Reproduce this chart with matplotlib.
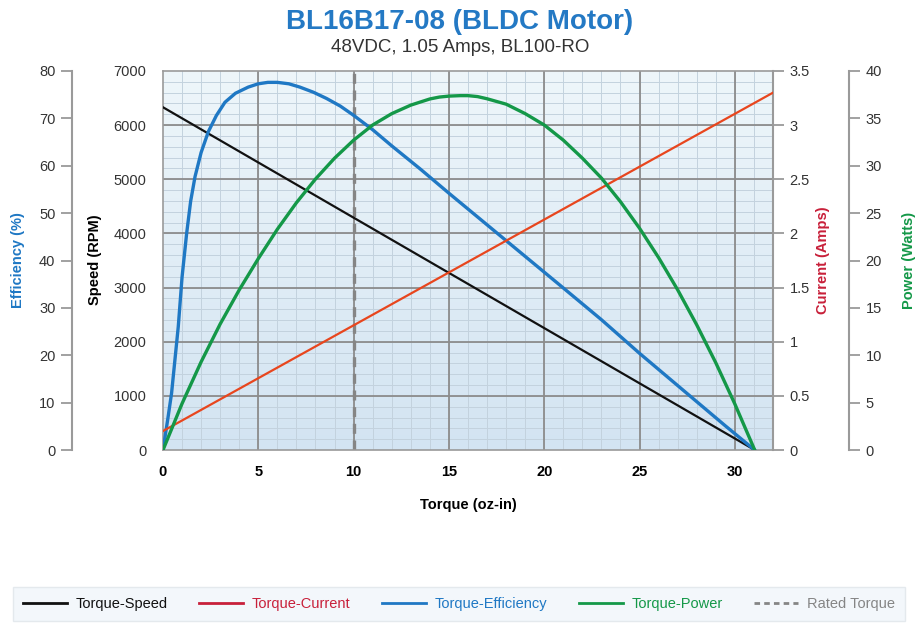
import numpy as np
import matplotlib
matplotlib.use('Agg')
import matplotlib.pyplot as plt
from matplotlib.lines import Line2D

plt.rcParams['font.family'] = ['Liberation Sans', 'DejaVu Sans']

# ── data ──
speed_t = [0, 31.04]
speed_rpm = [6330, 0]

cur_t = [0, 32]
cur_a = [0.175, 3.30]

eff_t = [0, 0.25, 0.45, 0.8, 1.0, 1.24, 1.45, 1.68, 2.0, 2.38, 2.8, 3.25, 3.8, 4.47,
         5.0, 5.5, 6.0, 6.6, 7.18, 7.9, 8.58, 9.3, 9.98, 11.0, 12.0, 13.5, 15, 16.5, 18,
         19.5, 21, 23, 25, 26.5, 28, 29.5, 31.04]
eff_pct = [0, 6.5, 12.0, 26.0, 36.5, 45.7, 52.5, 57.7, 62.8, 67.2, 70.6, 73.4, 75.3, 76.6,
           77.3, 77.6, 77.6, 77.3, 76.6, 75.5, 74.2, 72.6, 70.7, 67.6, 64.2, 59.3, 54.2, 49.2,
           44.2, 39.2, 34.2, 27.5, 20.4, 15.3, 10.2, 5.1, 0]

pow_t = [0, 1, 2, 3, 4, 5, 6, 7, 8, 9, 10, 11, 12, 13, 14, 14.5, 15, 15.6, 16, 16.5, 17, 18,
         19, 20, 21, 22, 23, 24, 25, 26, 27, 28, 29, 30, 31.04]
pow_w = [0, 4.9, 9.3, 13.3, 16.9, 20.2, 23.3, 26.1, 28.6, 30.8, 32.7, 34.3, 35.5, 36.4, 37.05,
         37.25, 37.35, 37.4, 37.4, 37.3, 37.07, 36.5, 35.5, 34.3, 32.7, 30.8, 28.7, 26.2, 23.4,
         20.3, 16.9, 13.2, 9.2, 4.85, 0]

rated_torque = 10

# ── colours ──
C_SPEED = '#111111'
C_CUR = '#e8461e'
C_CUR_TXT = '#c8203a'
C_EFF = '#1f78c4'
C_POW = '#149848'
C_RATED = '#858585'
C_AX = '#9a9a9a'
C_TXT = '#333333'

fig = plt.figure(figsize=(9.2, 6.23), dpi=100)
L, R, B, T = 163/920, 773/920, 1-450/623, 1-71/623
ax = fig.add_axes([L, B, R-L, T-B])
ax.set_xlim(0, 32)
ax.set_ylim(0, 7000)

# gradient background
grad = np.linspace(0, 1, 256).reshape(-1, 1)
cmap = matplotlib.colors.LinearSegmentedColormap.from_list('bg', ['#d3e4f2', '#eef6fa'])
ax.imshow(grad, extent=[0, 32, 0, 7000], origin='lower', aspect='auto', cmap=cmap, zorder=0)

x_major = np.arange(0, 31, 5)
y_major = np.arange(0, 7001, 1000)
ax.set_xticks(x_major)
ax.set_yticks(y_major)

# grid: minor first, major on top
for xv in np.arange(1, 32, 1):
    ax.axvline(xv, color='#c3d2de', lw=0.7, zorder=0.6)
for yv in np.arange(200, 7000, 200):
    ax.axhline(yv, color='#c3d2de', lw=0.7, zorder=0.6)
for xv in x_major[1:]:
    ax.axvline(xv, color='#8c8c8c', lw=1.3, zorder=0.8)
for yv in y_major[1:-1]:
    ax.axhline(yv, color='#8c8c8c', lw=1.3, zorder=0.8)

ax.tick_params(axis='both', which='both', length=0)
ax.tick_params(axis='x', pad=11, labelsize=10.5, colors='black')
ax.tick_params(axis='y', pad=12, labelsize=10.5, labelcolor=C_TXT)
for lbl in ax.get_xticklabels():
    lbl.set_fontweight('bold')
for s in ax.spines.values():
    s.set_color(C_AX)
    s.set_linewidth(1.2)

ax.axvline(rated_torque, color=C_RATED, lw=2.4, ls=(0, (3, 2)), zorder=2)
ax.plot(speed_t, speed_rpm, color=C_SPEED, lw=1.6, zorder=3)

# efficiency axis (far left)
ax_eff = ax.twinx()
ax_eff.set_ylim(0, 80)
ax_eff.spines['left'].set_visible(True)
ax_eff.spines['left'].set_position(('axes', -0.149))
ax_eff.yaxis.set_ticks_position('left')
ax_eff.yaxis.set_label_position('left')
ax_eff.set_yticks(np.arange(0, 81, 10))

# current axis (right edge)
ax_cur = ax.twinx()
ax_cur.set_ylim(0, 3.5)
ax_cur.set_yticks(np.arange(0, 3.51, 0.5))
ax_cur.set_yticklabels(['0', '0.5', '1', '1.5', '2', '2.5', '3', '3.5'])

# power axis (far right)
ax_pow = ax.twinx()
ax_pow.set_ylim(0, 40)
ax_pow.spines['right'].set_position(('axes', 1.1246))
ax_pow.set_yticks(np.arange(0, 41, 5))

for a in (ax_eff, ax_cur, ax_pow):
    for k, s in a.spines.items():
        s.set_color(C_AX)
        s.set_linewidth(1.5)
        if k in ('top', 'bottom'):
            s.set_visible(False)
    a.tick_params(axis='y', length=8, width=1.3, color=C_AX, labelsize=10.5,
                  labelcolor=C_TXT, pad=4)
ax_eff.spines['right'].set_visible(False)
ax_cur.spines['left'].set_visible(False)
ax_pow.spines['left'].set_visible(False)

ax_cur.plot(cur_t, cur_a, color=C_CUR, lw=1.6, zorder=3)
ax_pow.plot(pow_t, pow_w, color=C_POW, lw=2.4, zorder=3, solid_capstyle='round',
            solid_joinstyle='round')
ax_eff.plot(eff_t, eff_pct, color=C_EFF, lw=2.4, zorder=3, solid_capstyle='round',
            solid_joinstyle='round')

# axis labels
fig.text(18/920, 1-260/623, 'Efficiency (%)', rotation=90, color=C_EFF, fontsize=10.5,
         fontweight='bold', ha='center', va='center')
fig.text(95/920, 1-260/623, 'Speed (RPM)', rotation=90, color='black', fontsize=10.5,
         fontweight='bold', ha='center', va='center')
fig.text(823/920, 1-260/623, 'Current (Amps)', rotation=90, color=C_CUR_TXT, fontsize=10.5,
         fontweight='bold', ha='center', va='center')
fig.text(909/920, 1-260/623, 'Power (Watts)', rotation=90, color=C_POW, fontsize=10.5,
         fontweight='bold', ha='center', va='center')
fig.text(468/920, 1-505/623, 'Torque (oz-in)', color='black', fontsize=10.5,
         fontweight='bold', ha='center', va='center')

# titles
fig.text(0.5, 1-22/623, 'BL16B17-08 (BLDC Motor)', color='#2479c4', fontsize=20,
         fontweight='bold', ha='center', va='center')
fig.text(0.5, 1-47/623, '48VDC, 1.05 Amps, BL100-RO', color=C_TXT, fontsize=13.5,
         ha='center', va='center')

# legend
handles = [Line2D([], [], color=C_SPEED, lw=2),
           Line2D([], [], color=C_CUR_TXT, lw=2),
           Line2D([], [], color=C_EFF, lw=2),
           Line2D([], [], color=C_POW, lw=2),
           Line2D([], [], color=C_RATED, lw=2, ls=(0, (2, 1.5)))]
labels = ['Torque-Speed', 'Torque-Current', 'Torque-Efficiency', 'Torque-Power', 'Rated Torque']
txt_cols = [C_SPEED, C_CUR_TXT, C_EFF, C_POW, C_RATED]
leg = fig.legend(handles, labels, ncol=5, loc='center', mode='expand',
                 bbox_to_anchor=(13/920, 1-621/623, 892/920, 34/623), frameon=True,
                 fontsize=10.5, handlelength=3.0, handletextpad=0.6,
                 borderpad=0.7, borderaxespad=0, fancybox=False)
leg.get_frame().set_facecolor('#f1f6fa')
leg.get_frame().set_edgecolor('#dfe5ea')
for t, c in zip(leg.get_texts(), txt_cols):
    t.set_color(c)

fig.savefig('out.png', dpi=100)
